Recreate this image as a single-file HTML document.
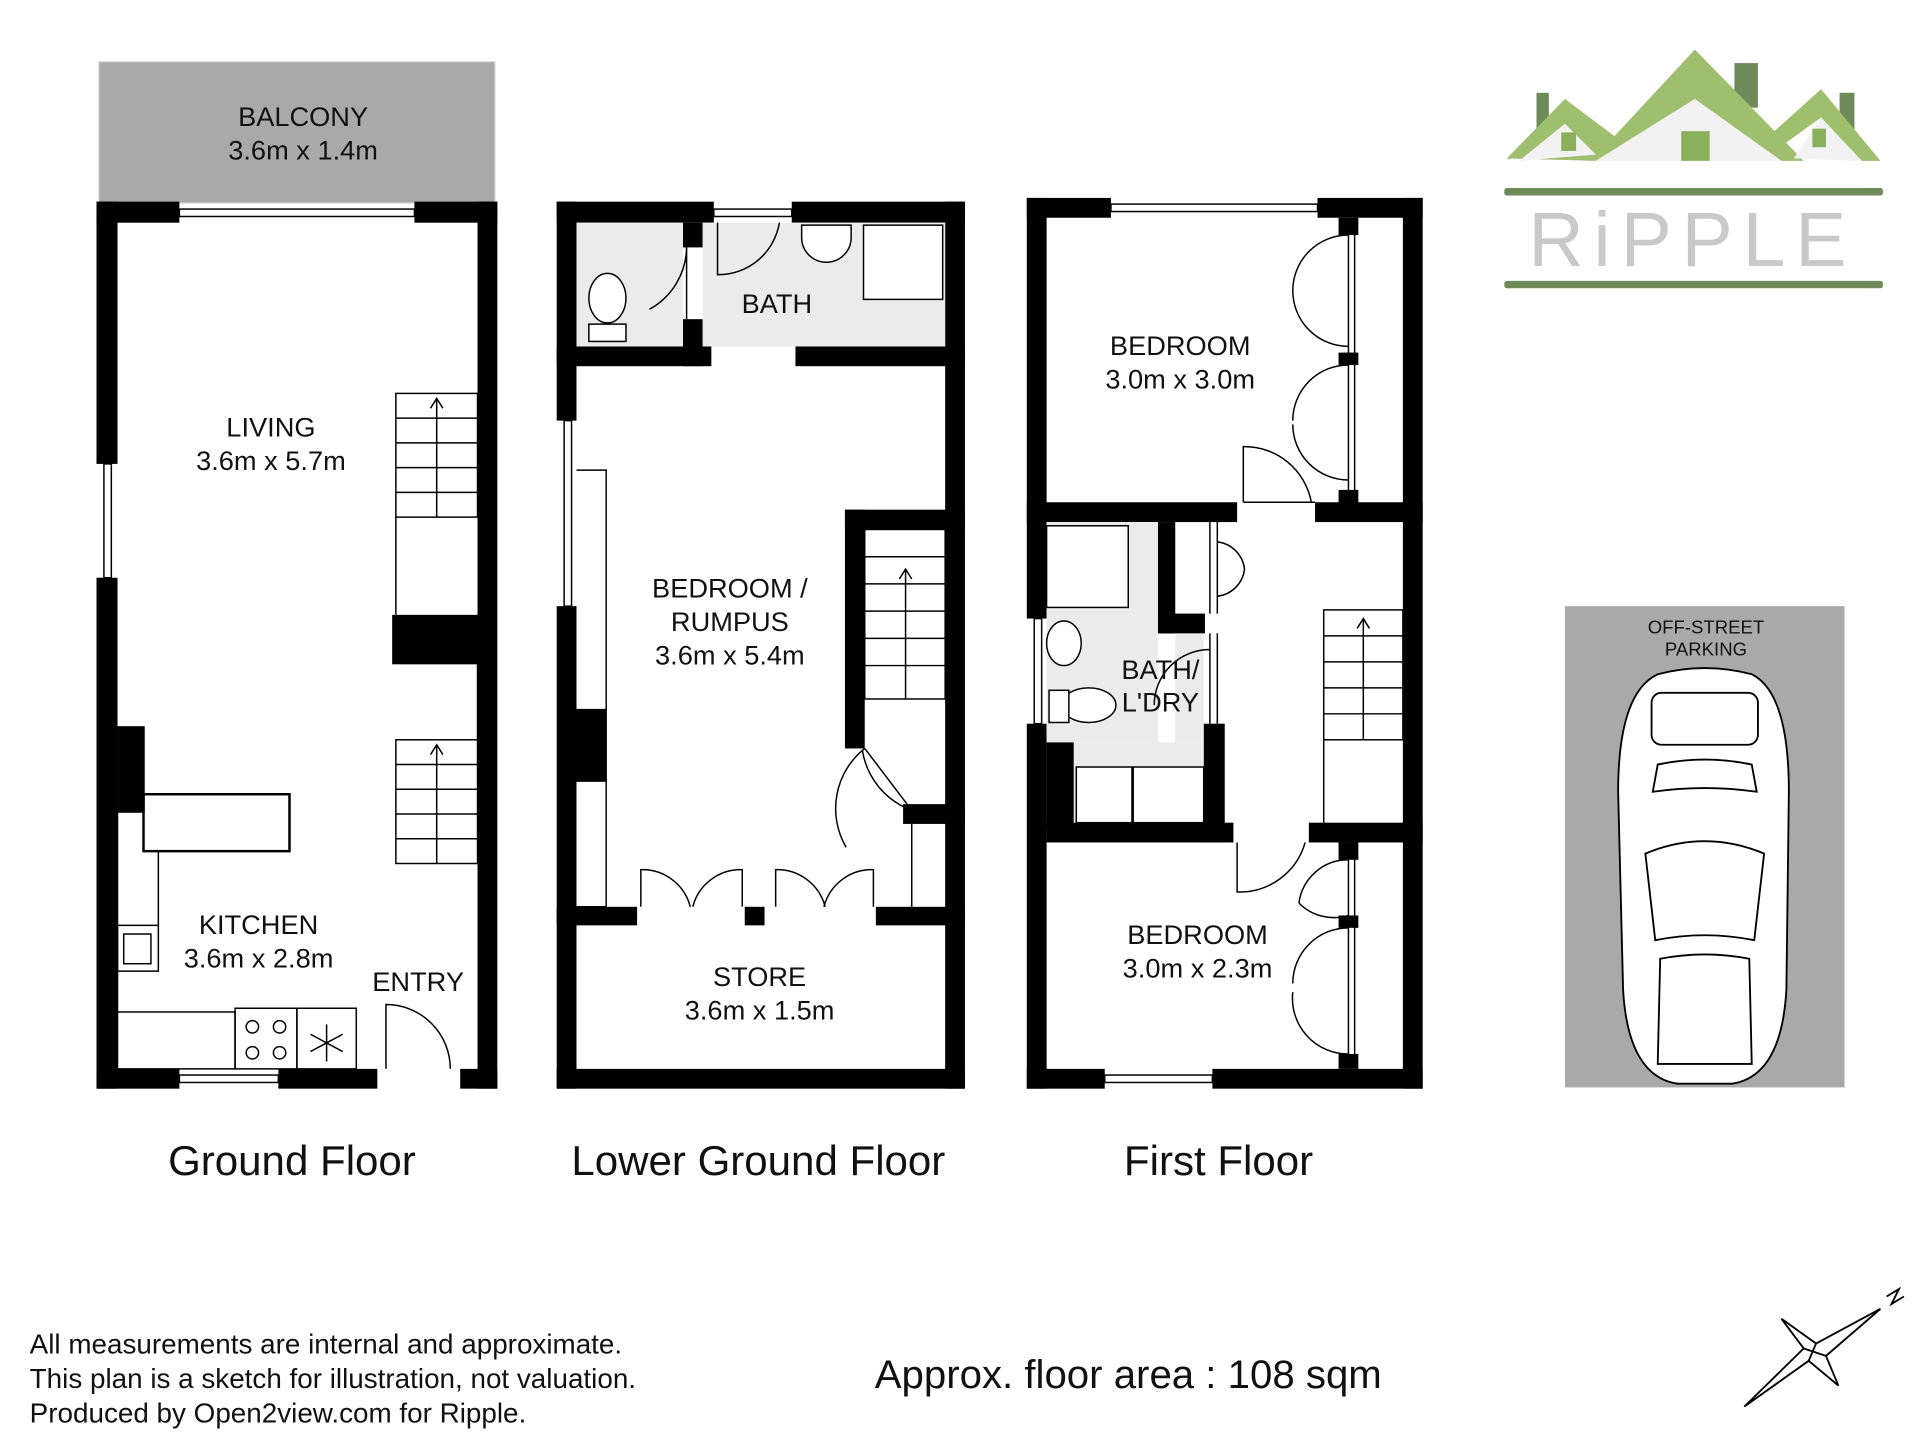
<!DOCTYPE html>
<html><head><meta charset="utf-8"><style>
html,body{margin:0;padding:0;background:#fff;}
svg{display:block;}
text{font-family:"Liberation Sans",Arial,sans-serif;fill:#111;}
</style></head><body>
<svg width="1920" height="1440" viewBox="0 0 1552 1164" xmlns="http://www.w3.org/2000/svg">
<rect width="1552" height="1164" fill="#fff"/>
<rect x="80" y="50" width="320" height="114" fill="#a9a9a9" stroke="#ccc"/>
<text x="245" y="102" font-size="22" text-anchor="middle">BALCONY</text>
<text x="245" y="129" font-size="22" text-anchor="middle">3.6m x 1.4m</text>

<g fill="#000">
<rect x="78" y="163" width="67" height="17"/><rect x="335" y="163" width="67" height="17"/>
<rect x="78" y="163" width="17" height="212"/><rect x="78" y="467" width="17" height="413"/>
<rect x="386" y="163" width="16" height="717"/>
<rect x="78" y="864" width="67" height="16"/><rect x="225" y="864" width="80" height="16"/><rect x="372" y="864" width="30" height="16"/>
<rect x="317" y="497" width="73" height="40"/>
<rect x="95" y="587" width="22" height="70"/>
<rect x="450" y="163" width="127" height="17"/><rect x="640" y="163" width="140" height="17"/>
<rect x="450" y="163" width="16" height="177"/><rect x="450" y="490" width="16" height="390"/>
<rect x="764" y="163" width="16" height="717"/>
<rect x="450" y="280" width="125" height="16"/><rect x="643" y="280" width="137" height="16"/>
<rect x="552" y="180" width="16" height="20"/><rect x="552" y="258" width="16" height="38"/>
<rect x="466" y="573" width="24" height="59"/>
<rect x="683" y="412" width="97" height="16"/><rect x="683" y="412" width="16" height="193"/>
<rect x="730" y="650" width="50" height="16"/>
<rect x="450" y="733" width="65" height="15"/><rect x="602" y="733" width="16" height="15"/><rect x="708" y="733" width="72" height="15"/>
<rect x="450" y="864" width="330" height="16"/>
<rect x="830" y="160" width="68" height="16"/><rect x="1065" y="160" width="85" height="16"/>
<rect x="830" y="160" width="16" height="340"/><rect x="830" y="585" width="16" height="295"/>
<rect x="1134" y="160" width="16" height="720"/>
<rect x="830" y="406" width="170" height="16"/><rect x="1063" y="406" width="87" height="16"/>
<rect x="936" y="422" width="14" height="90"/><rect x="936" y="496" width="38" height="16"/>
<rect x="973" y="585" width="17" height="96"/>
<rect x="846" y="600" width="22" height="70"/>
<rect x="846" y="665" width="151" height="16"/><rect x="1058" y="665" width="92" height="16"/>
<rect x="1082" y="176" width="16" height="14"/><rect x="1082" y="285" width="16" height="10"/><rect x="1082" y="396" width="16" height="14"/>
<rect x="1082" y="681" width="16" height="14"/><rect x="1082" y="740" width="16" height="10"/><rect x="1082" y="852" width="16" height="12"/>
<rect x="830" y="864" width="63" height="16"/><rect x="980" y="864" width="170" height="16"/>
</g>

<g fill="none" stroke="#000" stroke-width="1.2">
<rect x="145" y="169" width="190" height="6"/><rect x="84" y="375" width="6" height="92"/><rect x="145" y="869" width="80" height="6"/>
<rect x="577" y="169" width="63" height="6"/><rect x="456" y="340" width="6" height="150"/>
<rect x="898" y="165" width="167" height="6"/><rect x="836" y="500" width="6" height="85"/><rect x="893" y="869" width="87" height="6"/>
<rect x="320" y="318" width="66" height="100"/>
<path d="M320 338h66M320 358h66M320 378h66M320 398h66M353 418V322M348 330l5-8 5 8"/>
<rect x="320" y="598" width="66" height="100"/>
<path d="M320 618h66M320 638h66M320 658h66M320 678h66M353 698V602M348 610l5-8 5 8"/>
<path d="M320 418v79M386 537v61"/>
<rect x="116" y="642" width="118" height="46" stroke-width="2"/>
<path d="M95 657v161M128 688v60"/>
<rect x="95" y="748" width="33" height="37"/><rect x="100" y="755" width="22" height="24"/>
<rect x="95" y="818" width="95" height="46"/>
<rect x="190" y="815" width="50" height="49"/><circle cx="204" cy="830" r="5"/><circle cx="226" cy="830" r="5"/><circle cx="204" cy="851" r="5"/><circle cx="226" cy="851" r="5"/>
<rect x="240" y="815" width="48" height="49"/><path d="M264 828v30M251 836l26 14M251 850l26-14"/>
<path d="M312 864v-52a52 52 0 0 1 52 52"/>
<rect x="466" y="180" width="86" height="100" fill="#ebebeb" stroke="none"/>
<rect x="568" y="180" width="196" height="100" fill="#ebebeb" stroke="none"/>
<ellipse cx="491" cy="241" rx="15" ry="20" fill="#fff"/><rect x="476" y="262" width="30" height="14" fill="#fff"/>
<path d="M555 200v58M555 200a58 58 0 0 1-30 50"/>
<path d="M580 180v42a50 50 0 0 0 50-42"/>
<path d="M648 182h40v10a20 20 0 0 1-40 0z" fill="#fff"/><rect x="698" y="182" width="64" height="60" fill="#fff"/>
<path d="M466 380h24v353h-24M490 380h-24"/>
<rect x="699" y="428" width="65" height="137"/>
<path d="M699 450h65M699 472h65M699 494h65M699 516h65M699 538h65M732 565V460M727 468l5-8 5 8"/>
<path d="M699 605l38 50M737 655a62 62 0 0 1-40-49M699 605a62 62 0 0 0-15 80"/>
<path d="M737 666v67"/>
<path d="M518 733v-30a40 40 0 0 1 40 30M600 733v-30a40 40 0 0 0-40 30M627 733v-30a40 40 0 0 1 40 30M706 733v-30a40 40 0 0 0-40 30"/>
<path d="M1090 176v230M1095 176v230M1090 681v183M1095 681v183"/>
<path d="M1090 190a45 45 0 0 0-45 45M1090 280a45 45 0 0 1-45-45M1090 295a45 45 0 0 0-45 45M1090 388a45 45 0 0 1-45-45"/>
<path d="M1090 695a40 40 0 0 0-40 35M1090 740a40 40 0 0 1-40-10M1090 750a45 45 0 0 0-45 45M1090 852a45 45 0 0 1-45-50"/>
<path d="M1005 406v-45a55 55 0 0 1 55 45M1005 406h58"/>
<rect x="846" y="422" width="90" height="178" fill="#ebebeb" stroke="none"/>
<rect x="950" y="512" width="23" height="88" fill="#ebebeb" stroke="none"/>
<rect x="868" y="600" width="105" height="65" fill="#ebebeb" stroke="none"/>
<rect x="846" y="425" width="66" height="66" fill="#fff"/>
<ellipse cx="860" cy="520" rx="14" ry="18" fill="#fff"/>
<ellipse cx="880" cy="570" rx="22" ry="14" fill="#fff"/><rect x="848" y="558" width="16" height="26" fill="#fff"/>
<rect x="870" y="620" width="45" height="45" fill="#fff"/><rect x="916" y="620" width="57" height="45" fill="#fff"/>
<path d="M978 422v74M984 422v74M984 438a25 25 0 0 1 22 22M984 482a25 25 0 0 0 22-22"/>
<path d="M978 512v73M984 512v73M978 525a45 45 0 0 0-45 45"/>
<rect x="1070" y="493" width="64" height="105"/>
<path d="M1070 514h64M1070 535h64M1070 556h64M1070 577h64M1102 598V500M1097 508l5-8 5 8M1070 598v67"/>
<path d="M1000 681v40a55 55 0 0 0 55-40"/>
</g>

<g font-size="22" text-anchor="middle">
<text x="219" y="353">LIVING</text><text x="219" y="380">3.6m x 5.7m</text>
<text x="209" y="755">KITCHEN</text><text x="209" y="782">3.6m x 2.8m</text>
<text x="338" y="801">ENTRY</text>
<text x="628" y="253">BATH</text>
<text x="590" y="483">BEDROOM /</text><text x="590" y="510">RUMPUS</text><text x="590" y="537">3.6m x 5.4m</text>
<text x="614" y="797">STORE</text><text x="614" y="824">3.6m x 1.5m</text>
<text x="954" y="287">BEDROOM</text><text x="954" y="314">3.0m x 3.0m</text>
<text x="938" y="549">BATH/</text><text x="938" y="575">L'DRY</text>
<text x="968" y="763">BEDROOM</text><text x="968" y="790">3.0m x 2.3m</text>
</g>
<g font-size="34" text-anchor="middle">
<text x="236" y="950">Ground Floor</text>
<text x="613" y="950">Lower Ground Floor</text>
<text x="985" y="950">First Floor</text>
</g>

<rect x="1265" y="490" width="226" height="389" fill="#a9a9a9"/>
<text x="1379" y="512" font-size="15" text-anchor="middle">OFF-STREET</text>
<text x="1379" y="530" font-size="15" text-anchor="middle">PARKING</text>
<g fill="#fff" stroke="#000" stroke-width="1.5">
<path d="M1340 545 Q1378 535 1416 545 Q1446 560 1446 640 L1444 800 Q1440 870 1400 876 L1356 876 Q1316 870 1312 800 L1308 640 Q1308 560 1340 545Z"/>
<rect x="1335" y="560" width="86" height="42" rx="8"/>
<path d="M1340 618 Q1378 610 1416 618 L1420 640 Q1378 634 1336 640Z"/>
<path d="M1330 690 Q1378 670 1426 690 L1418 760 Q1378 752 1338 760Z"/>
<path d="M1342 775 Q1378 768 1414 775 L1416 860 L1340 860Z"/>
</g>

<g>
<rect x="1242" y="75" width="10" height="30" fill="#6e8a58"/>
<rect x="1402" y="51" width="19" height="36" fill="#6e8a58"/>
<rect x="1487" y="75" width="12" height="30" fill="#6e8a58"/>
<path d="M1218 128 L1265 80 L1305 110 L1370 40 L1458 130 L1440 130 L1370 80 L1290 130 Z" fill="#9dbf6e"/>
<path d="M1218 130 L1265 80 L1300 115 L1290 128 L1265 100 Z" fill="#9dbf6e"/>
<path d="M1430 110 L1472 72 L1520 130 L1505 130 L1472 95 L1440 118Z" fill="#9dbf6e"/>
<path d="M1290 130 L1370 80 L1440 130Z" fill="#f2f2f2"/>
<path d="M1228 130 L1265 100 L1290 125Z M1450 128 L1472 95 L1505 130Z" fill="#f2f2f2"/>
<rect x="1359" y="106" width="23" height="24" fill="#8ab05a"/>
<rect x="1262" y="107" width="12" height="15" fill="#8ab05a"/>
<rect x="1465" y="104" width="11" height="15" fill="#8ab05a"/>
<rect x="1216" y="152" width="306" height="6" rx="2" fill="#6e8a58"/>
<rect x="1216" y="227" width="306" height="6" rx="2" fill="#6e8a58"/>
<text x="1368" y="215" font-size="62" text-anchor="middle" letter-spacing="8" style="fill:#c9c9c9">RiPPLE</text>
</g>

<g font-size="22.5">
<text x="24" y="1094">All measurements are internal and approximate.</text>
<text x="24" y="1122">This plan is a sketch for illustration, not valuation.</text>
<text x="24" y="1150">Produced by Open2view.com for Ripple.</text>
</g>
<text x="912" y="1122" font-size="32.5" text-anchor="middle">Approx. floor area : 108 sqm</text>
<g fill="none" stroke="#000" stroke-width="1.5">
<path d="M1410 1137 L1458 1090 L1440 1066 L1468 1086 L1520 1058 L1476 1096 L1486 1120 L1462 1100 Z"/>
<path d="M1458 1090 L1476 1096 M1468 1086 L1462 1100"/>
<path d="M1525 1048 l10 -6 l-6 12 l10 -6"/>
</g>
</svg>
</body></html>
